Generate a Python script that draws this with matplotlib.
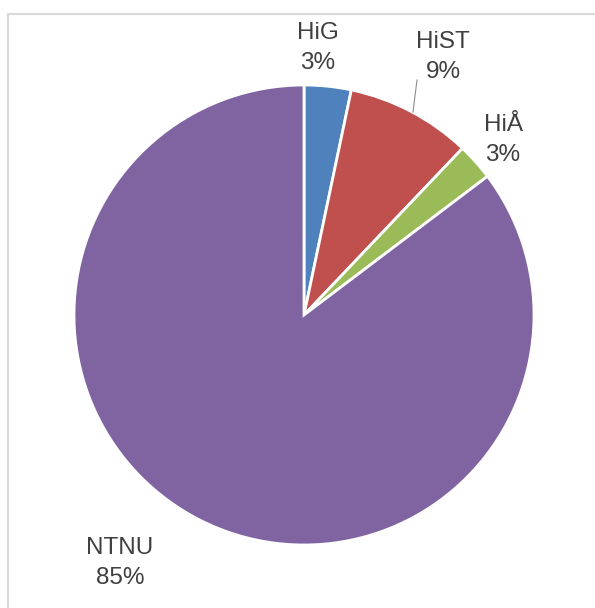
import matplotlib.pyplot as plt
from matplotlib.patches import Rectangle

# data
labels = ['HiG', 'HiST', 'HiÅ', 'NTNU']
shares = [3.3, 8.8, 2.6, 85.3]
colors = ['#4F81BD', '#C0504D', '#9BBB59', '#8064A2']

W, H = 595, 608
fig = plt.figure(figsize=(W / 100, H / 100), dpi=100)
ax = fig.add_axes([0, 0, 1, 1])

# pixel-like coords, y flipped
cx, cy, r = 304, H - 315, 230
wedges, _ = ax.pie(shares, colors=colors, startangle=90, counterclock=False,
                   center=(cx, cy), radius=r,
                   wedgeprops=dict(edgecolor='white', linewidth=2))

# label layout (pixel positions from the top-left)
label_pos = [(318, 48), (443, 57), (503, 140), (120, 563)]
for name, v, (x, y) in zip(labels, shares, label_pos):
    ax.text(x, H - y, f'{name}\n{round(v):.0f}%', ha='center', va='center',
            fontsize=17.5, color='#404040', family='Liberation Sans',
            linespacing=1.45)

# leader line for HiST
ax.plot([417, 413], [H - 80, H - 112], color='#8c8c8c', lw=0.8)

# chart frame (only top/left edge in view)
ax.add_patch(Rectangle((8, -20), W + 40, H - 14 + 20, fill=False,
                       edgecolor='#d9d9d9', lw=1.5, clip_on=False))

ax.set_xlim(0, W)
ax.set_ylim(0, H)
ax.set_aspect('auto')
ax.axis('off')

fig.savefig('out.png', dpi=100)
